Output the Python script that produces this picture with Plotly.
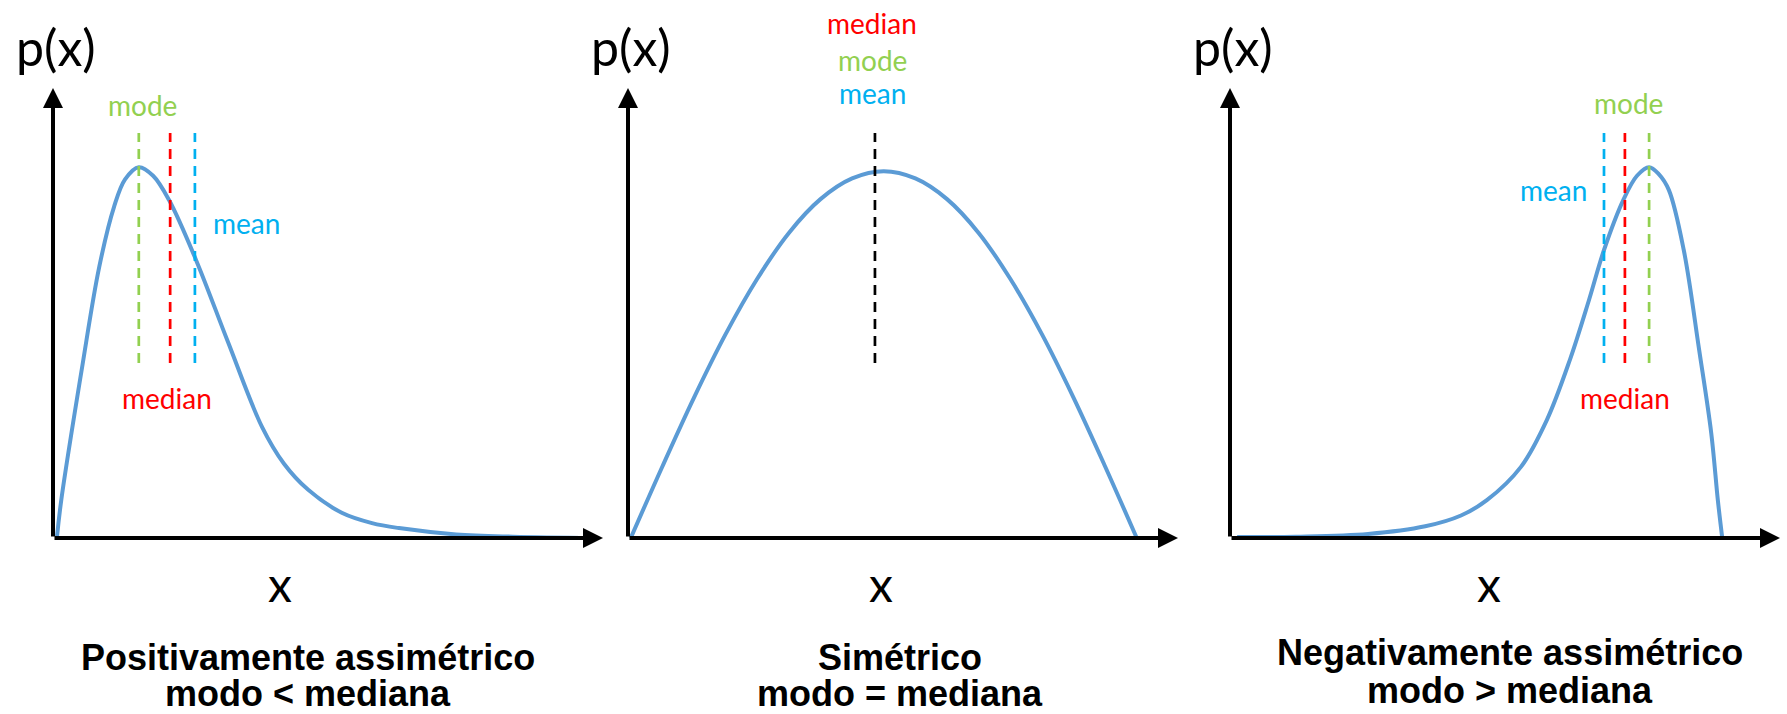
import plotly.graph_objects as go

# ---------------- data (arbitrary units: x 0..10, p(x) 0..10) -------------
pos_x = [0.07, 0.15, 0.53, 0.84, 1.11, 1.31, 1.56, 1.82, 2.11, 2.60, 3.18, 3.80, 4.20, 4.64, 5.25, 5.80, 6.29, 7.33, 8.36, 9.9]
pos_y = [0.0, 0.84, 3.80, 6.02, 7.36, 7.97, 8.24, 8.05, 7.51, 6.18, 4.36, 2.47, 1.65, 1.07, 0.56, 0.33, 0.22, 0.08, 0.03, 0.0]

sym_x = [0.05, 0.625, 1.20, 1.775, 2.35, 2.925, 3.50, 4.075, 4.65,
         5.225, 5.80, 6.375, 6.95, 7.525, 8.10, 8.675, 9.25]
sym_y = [0.0, 1.59, 3.12, 4.53, 5.76, 6.78, 7.53, 7.99, 8.15,
         7.99, 7.53, 6.78, 5.76, 4.53, 3.12, 1.59, 0.0]

neg_x = [0.13, 1.2, 2.51, 3.55, 4.20, 4.67, 5.29, 5.76, 6.18, 6.53, 6.80, 7.15, 7.40, 7.62, 7.80, 7.98, 8.25, 8.53, 8.75, 8.87, 8.95]
neg_y = [0.02, 0.03, 0.09, 0.26, 0.50, 0.84, 1.58, 2.62, 3.96, 5.30, 6.40, 7.51, 8.05, 8.24, 8.08, 7.73, 6.40, 4.18, 2.33, 0.84, 0.0]

# marker positions (mode, median, mean) per panel
pos_markers = {"mode": 1.56, "median": 2.13, "mean": 2.58}
sym_marker = 4.49
neg_markers = {"mode": 7.62, "median": 7.18, "mean": 6.80}
marker_top, marker_bottom = 9.0, 3.89

titles = [["Positivamente assimétrico", "modo < mediana"],
          ["Simétrico", "modo = mediana"],
          ["Negativamente assimétrico", "modo > mediana"]]

# ---------------- style / layout ----------------
W, H = 1787, 714
PX_X, PX_Y = 55.0, 45.0
ORIGINS_PX = [53, 628, 1230]
BASE_PX = 538
CURVE = "#5B9BD5"
COL = {"mode": "#92D050", "median": "#FF0000", "mean": "#00B0F0"}
LBL_FONT = "Lato, Open Sans, sans-serif"
TITLE_FONT = "Liberation Sans, Arial, sans-serif"

title_pos = [(4.64, -2.66, -3.46), (4.95, -2.66, -3.46), (5.09, -2.54, -3.38)]
xlabel_pos = [4.13, 4.6, 4.7]

fig = go.Figure()
layout = dict(width=W, height=H, margin=dict(l=0, r=0, t=0, b=0),
              paper_bgcolor="white", plot_bgcolor="white", showlegend=False)

for i, ox in enumerate(ORIGINS_PX):
    left, right = ox - 50, min(ox + 555, W)
    sfx = "" if i == 0 else str(i + 1)
    layout["xaxis" + sfx] = dict(domain=[left / W, right / W],
                                 range=[(left - ox) / PX_X, (right - ox) / PX_X],
                                 visible=False, fixedrange=True, anchor="y" + sfx)
    layout["yaxis" + sfx] = dict(domain=[0, 1],
                                 range=[(BASE_PX - H) / PX_Y, BASE_PX / PX_Y],
                                 visible=False, fixedrange=True, anchor="x" + sfx)
fig.update_layout(**layout)

curves = [(pos_x, pos_y), (sym_x, sym_y), (neg_x, neg_y)]
ann = []
for i, (cx, cy) in enumerate(curves):
    xr = "x" if i == 0 else "x%d" % (i + 1)
    yr = "y" if i == 0 else "y%d" % (i + 1)
    fig.add_trace(go.Scatter(x=cx, y=cy, mode="lines", xaxis=xr, yaxis=yr,
                             line=dict(color=CURVE, width=4, shape="spline", smoothing=1.0),
                             hoverinfo="skip"))
    # axes arrows
    for tip in [(10.0, 0), (0, 10.0)]:
        ann.append(dict(x=tip[0], y=tip[1], ax=0, ay=0, xref=xr, yref=yr, axref=xr, ayref=yr,
                        showarrow=True, arrowhead=2, arrowsize=1.0, arrowwidth=4,
                        arrowcolor="black", text=""))
    ann.append(dict(x=0.05, y=10.91, xref=xr, yref=yr, text="p(x)", showarrow=False,
                    font=dict(family=LBL_FONT, size=50, color="black")))
    ann.append(dict(x=xlabel_pos[i], y=-1.0, xref=xr, yref=yr, text="x", showarrow=False,
                    font=dict(family=LBL_FONT, size=48, color="black")))
    tx, ty1, ty2 = title_pos[i]
    for line, ty in zip(titles[i], (ty1, ty2)):
        ann.append(dict(x=tx, y=ty, xref=xr, yref=yr, text="<b>" + line + "</b>",
                        showarrow=False, align="center",
                        font=dict(family=TITLE_FONT, size=36, color="black")))


def vline(x, color, xr, yr):
    fig.add_trace(go.Scatter(x=[x, x], y=[marker_bottom, marker_top], mode="lines",
                             xaxis=xr, yaxis=yr, hoverinfo="skip",
                             line=dict(color=color, width=2.7, dash="10px,7px")))


for k, v in pos_markers.items():
    vline(v, COL[k], "x", "y")
for k, v in neg_markers.items():
    vline(v, COL[k], "x3", "y3")
vline(sym_marker, "black", "x2", "y2")

LS = 28
ann += [
    dict(x=1.62, y=9.62, xref="x", yref="y", text="mode", showarrow=False, font=dict(family=LBL_FONT, size=LS, color=COL["mode"])),
    dict(x=3.51, y=7.0, xref="x", yref="y", text="mean", showarrow=False, font=dict(family=LBL_FONT, size=LS, color=COL["mean"])),
    dict(x=2.07, y=3.11, xref="x", yref="y", text="median", showarrow=False, font=dict(family=LBL_FONT, size=LS, color=COL["median"])),
    dict(x=4.44, y=11.44, xref="x2", yref="y2", text="median", showarrow=False, font=dict(family=LBL_FONT, size=LS, color=COL["median"])),
    dict(x=4.44, y=10.62, xref="x2", yref="y2", text="mode", showarrow=False, font=dict(family=LBL_FONT, size=LS, color=COL["mode"])),
    dict(x=4.44, y=9.89, xref="x2", yref="y2", text="mean", showarrow=False, font=dict(family=LBL_FONT, size=LS, color=COL["mean"])),
    dict(x=7.25, y=9.67, xref="x3", yref="y3", text="mode", showarrow=False, font=dict(family=LBL_FONT, size=LS, color=COL["mode"])),
    dict(x=5.88, y=7.73, xref="x3", yref="y3", text="mean", showarrow=False, font=dict(family=LBL_FONT, size=LS, color=COL["mean"])),
    dict(x=7.18, y=3.11, xref="x3", yref="y3", text="median", showarrow=False, font=dict(family=LBL_FONT, size=LS, color=COL["median"])),
]
fig.update_layout(annotations=ann)

fig.write_html("out.html", config={"displayModeBar": False},
               post_script="document.body.style.margin='0px';")
